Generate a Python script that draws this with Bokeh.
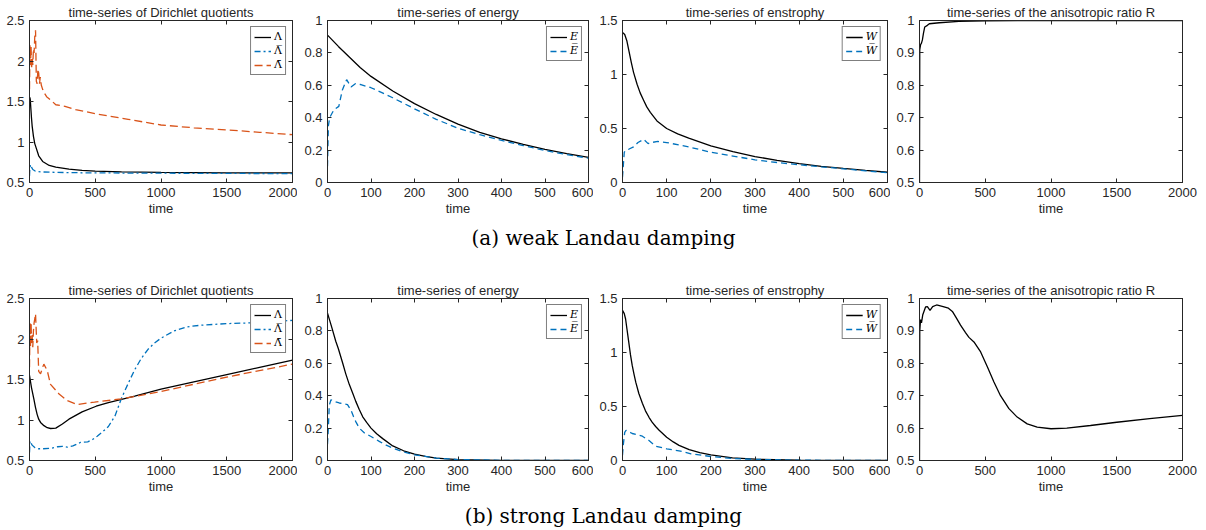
from bokeh.plotting import figure
from bokeh.layouts import row, column
from bokeh.models import Range1d, FixedTicker, LinearAxis, Label, CustomJSTickFormatter
from bokeh.embed import file_html
from bokeh.resources import INLINE

# ---------------- data ----------------
# weak Landau damping: Dirichlet quotients
t_w_lam = [0, 3, 6, 10, 15, 20, 30, 40, 50, 70, 100, 150, 200, 300, 400, 500, 700, 1000, 1500, 2000]
w_lam = [1.50, 1.55, 1.52, 1.42, 1.30, 1.20, 1.07, 0.98, 0.93, 0.83, 0.76, 0.71, 0.69, 0.665, 0.65, 0.64, 0.632, 0.625, 0.62, 0.618]
t_w_lbar = [0, 3, 8, 15, 25, 40, 60, 100, 200, 400, 700, 1000, 1500, 2000]
w_lbar = [0.58, 0.68, 0.72, 0.69, 0.66, 0.645, 0.635, 0.63, 0.625, 0.62, 0.617, 0.615, 0.612, 0.61]
t_w_ltil = [0, 4, 8, 12, 16, 20, 25, 30, 35, 40, 46, 52, 58, 64, 70, 76, 82, 90, 100, 115, 130, 160, 200, 270, 350, 500, 750, 1000, 1250, 1500, 1750, 2000]
w_ltil = [1.65, 2.2, 1.95, 2.18, 1.9, 2.05, 1.95, 2.15, 2.1, 2.3, 2.38, 1.75, 1.72, 1.9, 1.85, 1.72, 1.8, 1.7, 1.65, 1.6, 1.56, 1.52, 1.46, 1.44, 1.40, 1.35, 1.28, 1.21, 1.175, 1.15, 1.12, 1.09]

# weak: energy
t_w_E = [0, 25, 50, 75, 100, 150, 200, 250, 300, 350, 400, 450, 500, 550, 600]
w_E = [0.91, 0.84, 0.775, 0.71, 0.655, 0.565, 0.487, 0.42, 0.36, 0.31, 0.27, 0.235, 0.205, 0.178, 0.155]
t_w_Ebar = [0, 2, 5, 15, 26, 34, 44, 54, 64, 75, 100, 125, 150, 200, 250, 300, 350, 400, 450, 500, 550, 600]
w_Ebar = [0.10, 0.35, 0.40, 0.45, 0.47, 0.57, 0.635, 0.59, 0.61, 0.605, 0.585, 0.555, 0.523, 0.455, 0.39, 0.335, 0.295, 0.26, 0.228, 0.198, 0.172, 0.15]

# weak: enstrophy
t_w_W = [0, 5, 10, 15, 20, 25, 33, 40, 48, 55, 63, 78, 100, 125, 150, 200, 250, 300, 350, 400, 450, 500, 550, 600]
w_W = [1.39, 1.37, 1.31, 1.21, 1.11, 1.02, 0.91, 0.83, 0.76, 0.70, 0.65, 0.57, 0.5, 0.45, 0.41, 0.34, 0.285, 0.24, 0.205, 0.175, 0.15, 0.13, 0.112, 0.095]
t_w_Wbar = [0, 4, 8, 15, 25, 35, 48, 58, 65, 80, 100, 150, 200, 250, 300, 350, 400, 450, 500, 550, 600]
w_Wbar = [0.05, 0.28, 0.30, 0.31, 0.33, 0.37, 0.40, 0.36, 0.37, 0.38, 0.37, 0.33, 0.28, 0.245, 0.21, 0.185, 0.164, 0.145, 0.127, 0.108, 0.09]

# weak: anisotropic ratio R
t_w_R = [0, 2, 8, 15, 22, 30, 40, 60, 75, 150, 300, 500, 800, 2000]
w_R = [0.5, 0.91, 0.925, 0.93, 0.94, 0.96, 0.98, 0.985, 0.99, 0.993, 0.997, 0.999, 1.0, 1.0]

# strong Landau damping: Dirichlet quotients
t_s_lam = [0, 5, 15, 33, 45, 58, 70, 84, 110, 135, 160, 200, 250, 300, 400, 507, 600, 700, 800, 1000, 1250, 1500, 1750, 2000]
s_lam = [1.55, 1.5, 1.4, 1.26, 1.16, 1.07, 1.01, 0.97, 0.93, 0.905, 0.895, 0.9, 0.95, 1.01, 1.1, 1.17, 1.215, 1.255, 1.295, 1.38, 1.47, 1.56, 1.65, 1.74]
t_s_lbar = [0, 4, 10, 20, 40, 70, 100, 160, 215, 250, 287, 330, 390, 443, 480, 515, 560, 600, 650, 700, 750, 800, 850, 900, 950, 1000, 1100, 1200, 1300, 1500, 1700, 2000]
s_lbar = [0.6, 0.74, 0.72, 0.69, 0.66, 0.645, 0.645, 0.65, 0.67, 0.675, 0.665, 0.68, 0.725, 0.73, 0.76, 0.8, 0.86, 0.92, 1.05, 1.27, 1.45, 1.62, 1.76, 1.87, 1.95, 2.01, 2.1, 2.15, 2.17, 2.19, 2.2, 2.23]
t_s_ltil = [0, 4, 8, 12, 16, 20, 25, 30, 35, 40, 46, 55, 62, 70, 84, 100, 109, 135, 160, 225, 287, 363, 443, 494, 696, 994, 1500, 2000]
s_ltil = [1.65, 2.2, 1.9, 2.2, 1.95, 2.05, 1.9, 2.1, 2.2, 2.25, 2.31, 1.95, 1.98, 1.6, 1.57, 1.65, 1.69, 1.61, 1.44, 1.32, 1.24, 1.19, 1.21, 1.22, 1.26, 1.35, 1.53, 1.69]

# strong: energy
t_s_E = [0, 5, 10, 19, 25, 35, 42, 50, 58, 65, 73, 81, 90, 100, 113, 127, 150, 175, 200, 225, 250, 275, 300, 400, 500, 600]
s_E = [0.91, 0.865, 0.82, 0.736, 0.69, 0.60, 0.535, 0.47, 0.415, 0.365, 0.315, 0.27, 0.235, 0.2, 0.165, 0.135, 0.09, 0.06, 0.04, 0.025, 0.015, 0.01, 0.006, 0.001, 0.0, 0.0]
t_s_Ebar = [0, 2, 4, 8, 15, 27, 46, 54, 60, 65, 73, 85, 100, 119, 135, 150, 175, 200, 250, 300, 400, 500, 600]
s_Ebar = [0.1, 0.2, 0.34, 0.375, 0.365, 0.355, 0.345, 0.31, 0.27, 0.24, 0.2, 0.17, 0.148, 0.118, 0.095, 0.076, 0.052, 0.035, 0.015, 0.006, 0.001, 0.0, 0.0]

# strong: enstrophy
t_s_W = [0, 4, 7, 10, 14, 18, 22, 26, 30, 37, 45, 52, 60, 67, 75, 83, 100, 115, 128, 151, 175, 200, 249, 300, 400, 500, 600]
s_W = [1.39, 1.36, 1.31, 1.22, 1.10, 0.98, 0.88, 0.80, 0.725, 0.62, 0.53, 0.46, 0.40, 0.355, 0.315, 0.28, 0.216, 0.172, 0.14, 0.1, 0.072, 0.052, 0.025, 0.012, 0.003, 0.001, 0.0]
t_s_Wbar = [0, 2, 5, 8, 22, 45, 60, 75, 100, 128, 155, 200, 249, 300, 400, 500, 600]
s_Wbar = [0.05, 0.15, 0.26, 0.28, 0.25, 0.225, 0.185, 0.133, 0.108, 0.09, 0.062, 0.037, 0.019, 0.01, 0.003, 0.001, 0.0]

# strong: anisotropic ratio R
t_s_R = [0, 2, 8, 15, 25, 46, 60, 80, 100, 130, 180, 220, 250, 280, 312, 350, 376, 414, 465, 515, 566, 616, 680, 743, 819, 895, 1000, 1120, 1300, 1500, 1750, 2000]
s_R = [0.5, 0.90, 0.935, 0.925, 0.95, 0.974, 0.975, 0.963, 0.975, 0.98, 0.975, 0.97, 0.96, 0.94, 0.918, 0.895, 0.88, 0.866, 0.835, 0.79, 0.742, 0.70, 0.66, 0.634, 0.613, 0.603, 0.598, 0.6, 0.608, 0.618, 0.629, 0.639]

# ticks
xt_long = [0, 500, 1000, 1500, 2000]
xt_short = [0, 100, 200, 300, 400, 500, 600]
yt_lam = [0.5, 1.0, 1.5, 2.0, 2.5]
yl_lam = ["0.5", "1", "1.5", "2", "2.5"]
yt_E = [0.0, 0.2, 0.4, 0.6, 0.8, 1.0]
yl_E = ["0", "0.2", "0.4", "0.6", "0.8", "1"]
yt_W = [0.0, 0.5, 1.0, 1.5]
yl_W = ["0", "0.5", "1", "1.5"]
yt_R = [0.5, 0.6, 0.7, 0.8, 0.9, 1.0]
yl_R = ["0.5", "0.6", "0.7", "0.8", "0.9", "1"]

titles = ["time-series of Dirichlet quotients", "time-series of energy",
          "time-series of enstrophy", "time-series of the anisotropic ratio R"]
captions = ["(a) weak Landau damping", "(b) strong Landau damping"]
lab_lam = ["\u039b", "\u039b\u0305", "\u039b\u0304"]
lab_E = ["E", "E\u0305"]
lab_W = ["W", "W\u0305"]

BLUE = "#0072BD"
ORANGE = "#D95319"
TXT = "#262626"
SANS = "Liberation Sans"

# figure geometry: (width, left border, right border)
geo = [(297, 29, 5), (296, 30, 5), (297, 29, 3), (316, 29, 24)]


def make_panel(k, top, height, xmax, xt, yr, yt, yl, series, labels, italic):
    w, bl, br = geo[k]
    p = figure(width=w, height=height, output_backend="svg", toolbar_location=None,
               x_range=Range1d(0, xmax), y_range=Range1d(*yr),
               min_border_left=bl, min_border_right=br, min_border_top=top, min_border_bottom=40)
    p.title.text = titles[k]
    p.title.align = "center"
    p.title.text_font = SANS
    p.title.text_font_size = "13px"
    p.title.text_font_style = "normal"
    p.title.text_color = TXT
    p.title.standoff = 2
    p.grid.visible = False
    p.outline_line_color = TXT
    p.outline_line_width = 1
    p.background_fill_color = "white"
    p.border_fill_color = "white"
    for ax in (p.xaxis[0], p.yaxis[0]):
        ax.axis_line_color = TXT
        ax.major_tick_in = 4
        ax.major_tick_out = 0
        ax.minor_tick_line_color = None
        ax.major_tick_line_color = TXT
        ax.major_label_text_font = SANS
        ax.major_label_text_font_size = "13px"
        ax.major_label_text_color = TXT
        ax.major_label_standoff = 5
    p.xaxis.ticker = FixedTicker(ticks=xt)
    p.yaxis.ticker = FixedTicker(ticks=yt)
    p.yaxis.major_label_overrides = {v: s for v, s in zip(yt, yl)}
    p.xaxis.axis_label = "time"
    p.xaxis.axis_label_text_font = SANS
    p.xaxis.axis_label_text_font_size = "13px"
    p.xaxis.axis_label_text_font_style = "normal"
    p.xaxis.axis_label_text_color = TXT
    p.xaxis.axis_label_standoff = 1
    # inward ticks on top and right (box style)
    for loc, tk in (("right", yt), ("above", xt)):
        ax = LinearAxis(ticker=FixedTicker(ticks=tk),
                        formatter=CustomJSTickFormatter(code="return ''"),
                        major_tick_in=4, major_tick_out=0, minor_tick_line_color=None,
                        major_label_text_font_size="0px", major_label_standoff=0,
                        axis_line_color=TXT, major_tick_line_color=TXT)
        p.add_layout(ax, loc)
    if labels:
        for (t, v, color, dash), lab in zip(series, labels):
            p.line(t, v, line_color=color, line_width=1.3, line_dash=dash, legend_label=lab)
        lg = p.legend[0]
        lg.location = "top_right"
        lg.margin = 6
        lg.padding = 3
        lg.spacing = 1
        lg.glyph_width = 17
        lg.glyph_height = 12
        lg.label_height = 12
        lg.label_width = 6
        lg.label_standoff = 3
        lg.label_text_font = "DejaVu Serif"
        lg.label_text_font_size = "11px"
        lg.label_text_font_style = "italic" if italic else "normal"
        lg.label_text_color = "black"
        lg.border_line_color = "black"
        lg.border_line_width = 1
        lg.background_fill_alpha = 1
    else:
        for (t, v, color, dash) in series:
            p.line(t, v, line_color=color, line_width=1.3, line_dash=dash)
    return p


def make_row(top, height, d):
    p1 = make_panel(0, top, height, 2000, xt_long, (0.5, 2.5), yt_lam, yl_lam,
                    [(d[0], d[1], "black", "solid"), (d[2], d[3], BLUE, "6 3 2 3"),
                     (d[4], d[5], ORANGE, "8 4")], lab_lam, False)
    p2 = make_panel(1, top, height, 600, xt_short, (0, 1), yt_E, yl_E,
                    [(d[6], d[7], "black", "solid"), (d[8], d[9], BLUE, "6 4")], lab_E, True)
    p3 = make_panel(2, top, height, 600, xt_short, (0, 1.5), yt_W, yl_W,
                    [(d[10], d[11], "black", "solid"), (d[12], d[13], BLUE, "6 4")], lab_W, True)
    p4 = make_panel(3, top, height, 2000, xt_long, (0.5, 1.0), yt_R, yl_R,
                    [(d[14], d[15], "black", "solid")], [], False)
    return row(p1, p2, p3, p4)


def make_caption(text, height, ypos):
    c = figure(width=1206, height=height, output_backend="svg", toolbar_location=None,
               x_range=Range1d(0, 1206), y_range=Range1d(0, height),
               x_axis_location=None, y_axis_location=None, min_border=0)
    c.outline_line_color = None
    c.grid.visible = False
    c.add_layout(Label(x=603, y=ypos, text=text, text_align="center", text_baseline="middle",
                       text_font="DejaVu Serif", text_font_size="20px", text_color="black"))
    return c


row1 = make_row(20, 222, [t_w_lam, w_lam, t_w_lbar, w_lbar, t_w_ltil, w_ltil,
                          t_w_E, w_E, t_w_Ebar, w_Ebar, t_w_W, w_W, t_w_Wbar, w_Wbar,
                          t_w_R, w_R])
cap1 = make_caption(captions[0], 36, 21)
row2 = make_row(40, 242, [t_s_lam, s_lam, t_s_lbar, s_lbar, t_s_ltil, s_ltil,
                          t_s_E, s_E, t_s_Ebar, s_Ebar, t_s_W, s_W, t_s_Wbar, s_Wbar,
                          t_s_R, s_R])
cap2 = make_caption(captions[1], 30, 15)

layout = column(row1, cap1, row2, cap2)
open("out.html", "w").write(file_html(layout, INLINE))
